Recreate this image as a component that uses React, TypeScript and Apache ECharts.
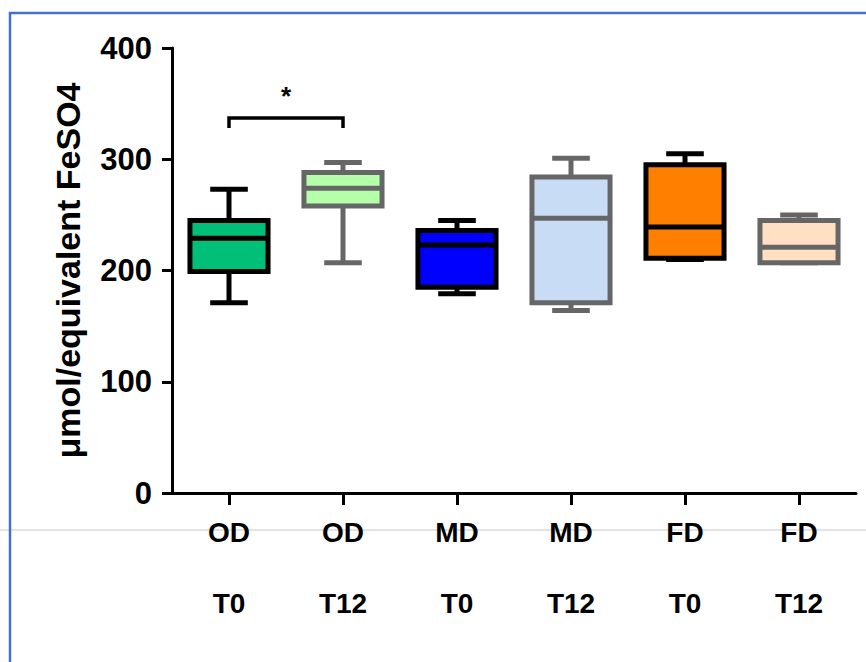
import React, { useEffect, useRef } from "react";
import * as echarts from "echarts";

// ---- data ----
const categories = ["OD\nT0", "OD\nT12", "MD\nT0", "MD\nT12", "FD\nT0", "FD\nT12"];
const minValues = [171, 207, 179, 164, 210, 207];
const q1Values = [199, 258, 185, 171, 211, 207];
const medianValues = [229, 274, 223, 247, 239, 221];
const q3Values = [245, 288, 236, 284, 295, 245];
const maxValues = [273, 297, 245, 301, 305, 250];
const fillColors = ["#00BF78", "#B4FFAA", "#0000FF", "#C9DCF5", "#FF8000", "#FFE0C2"];
const borderColors = ["#000000", "#666666", "#000000", "#666666", "#000000", "#666666"];
const yTicks = [0, 100, 200, 300, 400];
const yAxisTitle = "μmol/equivalent FeSO4";

// significance bracket: [fromCategory, toCategory, bracketTop, bracketFoot, starValue]
const sigFrom = [0];
const sigTo = [1];
const sigTop = [337];
const sigFoot = [328];
const sigStarY = [357];
const sigLabels = ["*"];

export default function App() {
  const ref = useRef<HTMLDivElement>(null);

  useEffect(() => {
    if (!ref.current) return;
    const chart = echarts.init(ref.current, undefined, { renderer: "svg" });

    const boxData = categories.map((_, i) => [
      i,
      minValues[i],
      q1Values[i],
      medianValues[i],
      q3Values[i],
      maxValues[i],
    ]);
    const sigData = sigFrom.map((f, i) => [f, sigTo[i], sigTop[i], sigFoot[i], sigStarY[i]]);

    const option: any = {
      animation: false,
      backgroundColor: "#ffffff",
      textStyle: { fontFamily: "Liberation Sans, Arial, sans-serif" },
      grid: { left: 172, right: 10, top: 48, bottom: 169, containLabel: false },
      graphic: [
        {
          type: "line",
          z: -10,
          silent: true,
          shape: { x1: 0, y1: 530, x2: 866, y2: 530 },
          style: { stroke: "#c8c8c8", lineWidth: 1 },
        },
        {
          type: "polyline",
          z: -10,
          silent: true,
          shape: { points: [[10, 662], [10, 13], [866, 13]] },
          style: { stroke: "#4472C4", lineWidth: 2.5, fill: "none" },
        },
      ],
      xAxis: {
        type: "category",
        data: categories,
        boundaryGap: true,
        axisLine: { show: true, lineStyle: { color: "#000", width: 3 } },
        axisTick: { show: true, alignWithLabel: true, length: 12, lineStyle: { color: "#000", width: 3 } },
        axisLabel: {
          color: "#000",
          fontSize: 28,
          fontWeight: "bold",
          lineHeight: 71,
          margin: 4,
          interval: 0,
          fontFamily: "Liberation Sans, Arial, sans-serif",
        },
        splitLine: { show: false },
      },
      yAxis: {
        type: "value",
        min: yTicks[0],
        max: yTicks[yTicks.length - 1],
        interval: yTicks[1] - yTicks[0],
        name: yAxisTitle,
        nameLocation: "middle",
        nameGap: 87,
        nameTextStyle: {
          color: "#000",
          fontSize: 34,
          fontWeight: "bold",
          fontFamily: "Liberation Sans, Arial, sans-serif",
        },
        axisLine: { show: true, lineStyle: { color: "#000", width: 3 } },
        axisTick: { show: true, length: 10, lineStyle: { color: "#000", width: 3 } },
        axisLabel: {
          color: "#000",
          fontSize: 31,
          fontWeight: "bold",
          margin: 20,
          fontFamily: "Liberation Sans, Arial, sans-serif",
        },
        splitLine: { show: false },
      },
      series: [
        {
          type: "custom",
          name: "box",
          data: boxData,
          encode: { x: 0, y: [1, 2, 3, 4, 5] },
          renderItem: (params: any, api: any) => {
            const i = api.value(0);
            const x = api.coord([i, 0])[0];
            const band = api.size([1, 0])[0];
            const yMin = api.coord([i, api.value(1)])[1];
            const yQ1 = api.coord([i, api.value(2)])[1];
            const yMed = api.coord([i, api.value(3)])[1];
            const yQ3 = api.coord([i, api.value(4)])[1];
            const yMax = api.coord([i, api.value(5)])[1];
            const bw = band * 0.685;
            const cw = band * 0.33;
            const lw = 5;
            const stroke = borderColors[i];
            const ls = { stroke, lineWidth: lw };
            return {
              type: "group",
              children: [
                { type: "line", shape: { x1: x, y1: yMax, x2: x, y2: yQ3 }, style: ls },
                { type: "line", shape: { x1: x, y1: yQ1, x2: x, y2: yMin }, style: ls },
                { type: "line", shape: { x1: x - cw / 2, y1: yMax, x2: x + cw / 2, y2: yMax }, style: ls },
                { type: "line", shape: { x1: x - cw / 2, y1: yMin, x2: x + cw / 2, y2: yMin }, style: ls },
                {
                  type: "rect",
                  shape: { x: x - bw / 2, y: yQ3, width: bw, height: yQ1 - yQ3 },
                  style: { fill: fillColors[i], stroke, lineWidth: lw },
                },
                { type: "line", shape: { x1: x - bw / 2, y1: yMed, x2: x + bw / 2, y2: yMed }, style: ls },
              ],
            };
          },
        },
        {
          type: "custom",
          name: "significance",
          data: sigData,
          encode: { x: [0, 1], y: [2, 3, 4] },
          renderItem: (params: any, api: any) => {
            const a = api.coord([api.value(0), api.value(2)]);
            const b = api.coord([api.value(1), api.value(2)]);
            const foot = api.coord([api.value(0), api.value(3)])[1];
            const star = api.coord([api.value(0), api.value(4)])[1];
            return {
              type: "group",
              children: [
                {
                  type: "polyline",
                  shape: { points: [[a[0], foot], [a[0], a[1]], [b[0], b[1]], [b[0], foot]] },
                  style: { stroke: "#000", lineWidth: 3.5, fill: "none" },
                },
                {
                  type: "text",
                  style: {
                    text: sigLabels[params.dataIndex],
                    x: (a[0] + b[0]) / 2,
                    y: star,
                    align: "center",
                    verticalAlign: "middle",
                    fontSize: 26,
                    fontWeight: "bold",
                    fill: "#000",
                    fontFamily: "Liberation Sans, Arial, sans-serif",
                  },
                },
              ],
            };
          },
        },
      ],
    };

    chart.setOption(option);
    return () => chart.dispose();
  }, []);

  return (
    <div
      ref={ref}
      style={{ position: "fixed", left: 0, top: 0, width: 866, height: 662 }}
    />
  );
}
